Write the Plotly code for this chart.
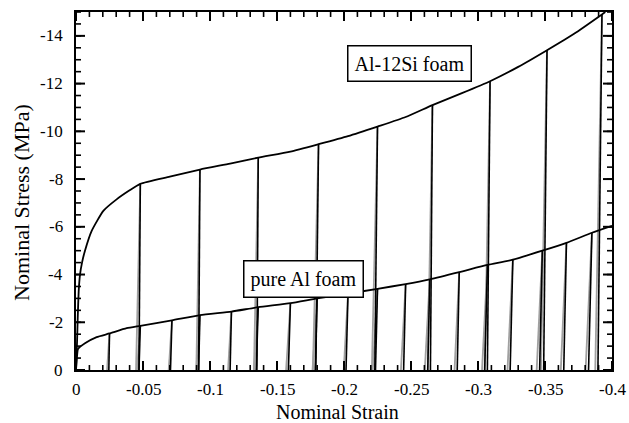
import plotly.graph_objects as go

# ---------------- data (strain, stress as plotted: negative = compression) ----
# Al-12Si foam envelope
alsi_strain = [0, 0.0008, 0.0013, 0.002, 0.003, 0.0045, 0.0067, 0.0117, 0.0204, 0.0303,
               0.0403, 0.048, 0.07, 0.0925, 0.115, 0.136, 0.16, 0.181, 0.203, 0.225,
               0.246, 0.266, 0.288, 0.309, 0.33, 0.3515, 0.372, 0.3925, 0.395]
alsi_stress = [0, 1.2, 2.2, 3.3, 4.0, 4.5, 5.0, 5.83, 6.67, 7.15,
               7.54, 7.8, 8.1, 8.4, 8.65, 8.9, 9.15, 9.46, 9.8, 10.2,
               10.6, 11.1, 11.6, 12.1, 12.7, 13.4, 14.1, 14.9, 15.0]
# Al-12Si unload/reload cycles
alsi_cyc_strain = [0.048, 0.0925, 0.136, 0.181, 0.225, 0.266, 0.309, 0.3515, 0.3925]
alsi_cyc_stress = [7.8, 8.4, 8.9, 9.46, 10.2, 11.1, 12.1, 13.4, 14.9]
alsi_cyc_resid = [0.047, 0.0915, 0.135, 0.179, 0.223, 0.2645, 0.307, 0.349, 0.3895]
alsi_cyc_reload = [0.0448, 0.0898, 0.1328, 0.1768, 0.2208, 0.2625, 0.305, 0.347, 0.3875]

# pure Al foam envelope
al_strain = [0, 0.0008, 0.0015, 0.0067, 0.0154, 0.025, 0.0378, 0.048, 0.0716, 0.0925,
             0.116, 0.136, 0.16, 0.18, 0.203, 0.225, 0.246, 0.264, 0.286, 0.307,
             0.326, 0.348, 0.366, 0.385, 0.4]
al_stress = [0, 0.6, 0.88, 1.12, 1.38, 1.53, 1.75, 1.85, 2.08, 2.3,
             2.45, 2.63, 2.8, 3.0, 3.2, 3.4, 3.6, 3.8, 4.1, 4.4,
             4.62, 5.0, 5.33, 5.75, 6.04]
# pure Al unload/reload cycles
al_cyc_strain = [0.025, 0.048, 0.0716, 0.0925, 0.116, 0.136, 0.16, 0.18, 0.203, 0.225,
                 0.246, 0.264, 0.286, 0.307, 0.326, 0.348, 0.366, 0.385]
al_cyc_stress = [1.53, 1.85, 2.08, 2.3, 2.45, 2.63, 2.8, 3.0, 3.2, 3.4,
                 3.6, 3.8, 4.1, 4.4, 4.62, 5.0, 5.33, 5.75]
al_cyc_resid = [0.0245, 0.047, 0.0705, 0.0915, 0.115, 0.1345, 0.1585, 0.1785, 0.2015, 0.2235,
                0.2445, 0.2625, 0.2845, 0.305, 0.324, 0.346, 0.364, 0.3825]
al_cyc_reload = [0.0232, 0.0455, 0.0692, 0.0898, 0.1135, 0.1328, 0.1568, 0.1765, 0.1998, 0.2215,
                 0.2425, 0.2603, 0.2825, 0.303, 0.322, 0.3438, 0.3618, 0.3803]

x_tickvals = [0, -0.05, -0.1, -0.15, -0.2, -0.25, -0.3, -0.35, -0.4]
x_ticktext = ["0", "-0.05", "-0.1", "-0.15", "-0.2", "-0.25", "-0.3", "-0.35", "-0.4"]
y_tickvals = [0, -2, -4, -6, -8, -10, -12, -14]
y_ticktext = ["0", "-2", "-4", "-6", "-8", "-10", "-12", "-14"]
x_range = [0, -0.4]
y_range = [0, -15]
x_minor_step = 0.01
y_minor_step = 0.5

labels = ["Al-12Si foam", "pure Al foam"]
label_pos_strain = [0.249, 0.1694]
label_pos_stress = [12.83, 3.83]

x_title = "Nominal Strain"
y_title = "Nominal Stress (MPa)"

FONT = "Liberation Serif"
PLOT_W, PLOT_H = 536, 360  # plot area in px (for tick lengths)


def neg(v):
    return [-a for a in v]


def segments(x0, y0, x1, y1):
    xs, ys = [], []
    for a, b, c, d in zip(x0, y0, x1, y1):
        xs += [-a, -c, None]
        ys += [-b, -d, None]
    return xs, ys


fig = go.Figure()

# reload paths (gray)
for peak_e, peak_s, rel in [(alsi_cyc_strain, alsi_cyc_stress, alsi_cyc_reload),
                            (al_cyc_strain, al_cyc_stress, al_cyc_reload)]:
    xs, ys = segments(rel, [0] * len(rel), peak_e, peak_s)
    fig.add_trace(go.Scatter(x=xs, y=ys, mode="lines",
                             line=dict(color="#a0a0a0", width=1.8),
                             hoverinfo="skip", showlegend=False))

# unload paths (black)
for peak_e, peak_s, res in [(alsi_cyc_strain, alsi_cyc_stress, alsi_cyc_resid),
                            (al_cyc_strain, al_cyc_stress, al_cyc_resid)]:
    xs, ys = segments(peak_e, peak_s, res, [0] * len(res))
    fig.add_trace(go.Scatter(x=xs, y=ys, mode="lines",
                             line=dict(color="black", width=1.6),
                             hoverinfo="skip", showlegend=False))

# envelopes
fig.add_trace(go.Scatter(x=neg(alsi_strain), y=neg(alsi_stress), mode="lines",
                         line=dict(color="black", width=1.8, shape="spline", smoothing=0.5),
                         name=labels[0], showlegend=False))
fig.add_trace(go.Scatter(x=neg(al_strain), y=neg(al_stress), mode="lines",
                         line=dict(color="black", width=1.8, shape="spline", smoothing=0.5),
                         name=labels[1], showlegend=False))

# ---- inside tick marks on all four sides (drawn as traces) ----
xspan = x_range[1] - x_range[0]
yspan = y_range[1] - y_range[0]
n_xminor = int(round(abs(xspan) / x_minor_step))
n_yminor = int(round(abs(yspan) / y_minor_step))
x_minor = [x_range[0] + i * x_minor_step * (1 if xspan > 0 else -1) for i in range(n_xminor + 1)]
y_minor = [y_range[0] + i * y_minor_step * (1 if yspan > 0 else -1) for i in range(n_yminor + 1)]


def tick_trace(xvals, yvals, length_px, width):
    dy = yspan * length_px / PLOT_H
    dx = xspan * length_px / PLOT_W
    xs, ys = [], []
    for v in xvals:
        xs += [v, v, None, v, v, None]
        ys += [y_range[0], y_range[0] + dy, None, y_range[1], y_range[1] - dy, None]
    for v in yvals:
        xs += [x_range[0], x_range[0] + dx, None, x_range[1], x_range[1] - dx, None]
        ys += [v, v, None, v, v, None]
    return go.Scatter(x=xs, y=ys, mode="lines", line=dict(color="black", width=width),
                      hoverinfo="skip", showlegend=False, cliponaxis=False)


fig.add_trace(tick_trace(x_minor, y_minor, 5, 1.6))
fig.add_trace(tick_trace(x_tickvals, y_tickvals, 9, 2))

for txt, ex, sy in zip(labels, label_pos_strain, label_pos_stress):
    fig.add_annotation(x=-ex, y=-sy, xref="x", yref="y", text=txt, showarrow=False,
                       font=dict(family=FONT, size=20, color="black"),
                       bgcolor="white", bordercolor="black", borderwidth=1.5, borderpad=6)

# tick labels with ASCII hyphen-minus, placed through the axis scales
tick_font = dict(family=FONT, size=17, color="black")
for v, t in zip(x_tickvals, x_ticktext):
    fig.add_annotation(x=v, y=-0.0556, xref="x", yref="paper", text=t, showarrow=False,
                       xanchor="center", yanchor="middle", font=tick_font)
for v, t in zip(y_tickvals, y_ticktext):
    fig.add_annotation(x=-0.0205, y=v, xref="paper", yref="y", text=t, showarrow=False,
                       xanchor="right", yanchor="middle", font=tick_font)

fig.add_annotation(x=-0.1007, y=0.4667, xref="paper", yref="paper", text=y_title,
                   textangle=-90, showarrow=False, xanchor="center", yanchor="middle",
                   font=dict(family=FONT, size=22, color="black"))
fig.add_annotation(x=0.487, y=-0.1167, xref="paper", yref="paper", text=x_title,
                   showarrow=False, xanchor="center", yanchor="middle",
                   font=dict(family=FONT, size=20, color="black"))

frame_axis = dict(showline=True, linecolor="black", linewidth=2, mirror=True,
                  ticks="", showticklabels=False, showgrid=False, zeroline=False)

fig.update_layout(
    width=629, height=423, margin=dict(l=76, r=17, t=10, b=53),
    paper_bgcolor="white", plot_bgcolor="white",
    xaxis=dict(range=x_range, **frame_axis),
    yaxis=dict(range=y_range, **frame_axis),
)

fig.write_html("out.html")
